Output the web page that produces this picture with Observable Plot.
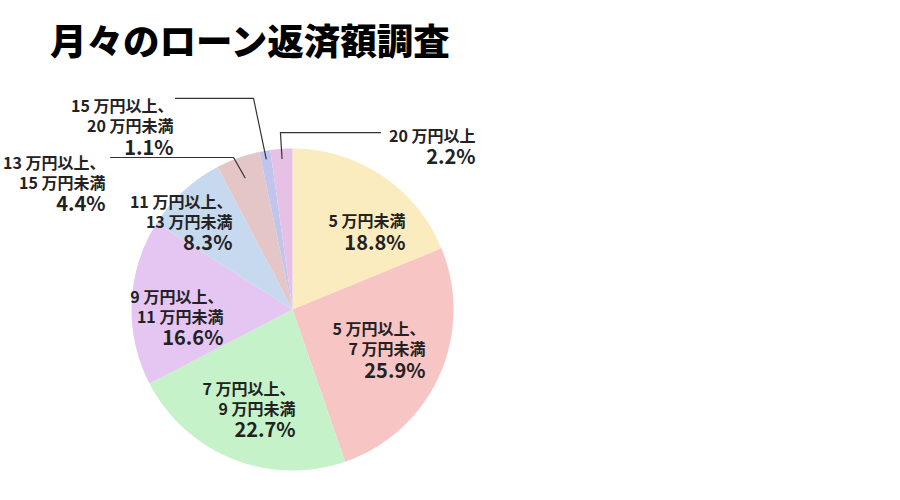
<!DOCTYPE html>
<html><head><meta charset="utf-8">
<script src="https://cdn.jsdelivr.net/npm/d3@7"></script>
<script src="https://cdn.jsdelivr.net/npm/@observablehq/plot@0.6"></script>
<style>
body{margin:0;background:#fff;font-family:"Noto Sans CJK JP","Noto Sans",sans-serif;}
#title{height:80px;line-height:80px;padding-left:50px;font-size:36.5px;font-weight:900;color:#000;white-space:nowrap;}
</style></head><body>
<div id="title">月々のローン返済額調査</div>
<div id="chart"></div>
<script>
// ---- data ----
const categories = ["5 万円未満", "5 万円以上、\n7 万円未満", "7 万円以上、\n9 万円未満", "9 万円以上、\n11 万円未満",
  "11 万円以上、\n13 万円未満", "13 万円以上、\n15 万円未満", "15 万円以上、\n20 万円未満", "20 万円以上"];
const shares = [18.8, 25.9, 22.7, 16.6, 8.3, 4.4, 1.1, 2.2];
const percentLabels = ["18.8%", "25.9%", "22.7%", "16.6%", "8.3%", "4.4%", "1.1%", "2.2%"];
const colors = ["#fbecc0", "#f8c5c5", "#c6f2c9", "#e5c5f2", "#c6d9ef", "#e4c6c6", "#c1c5ee", "#e6c1e5"];

// ---- layout (pie radius units, y up, relative to pie centre) ----
const labelAnchor = [[0.702, 0.497], [0.826, -0.298], [0.019, -0.665], [-0.429, -0.096],
  [-0.373, 0.494], [-1.161, 0.736], [-0.739, 1.087], [1.137, 1.031]];
// leaders: slice index, label-side x, elbow x, level y, radius of tip
const leaders = [
  {i: 5, x0: -1.130, xe: -0.366, y: 0.944, r: 0.87},
  {i: 6, x0: -0.727, xe: -0.242, y: 1.311, r: 0.95},
  {i: 7, x0: 0.547, xe: -0.075, y: 1.099, r: 0.94}
];

const W = 900, H = 420, cx = 292, cy = 229, R = 161;

const arcs = d3.pie().sort(null).value(d => d)(shares);
const slicePts = [];
arcs.forEach((a, i) => {
  const n = Math.max(2, Math.ceil((a.endAngle - a.startAngle) / (Math.PI / 360)));
  slicePts.push({k: categories[i], x: 0, y: 0});
  for (let j = 0; j <= n; j++) {
    const t = a.startAngle + (a.endAngle - a.startAngle) * j / n;
    slicePts.push({k: categories[i], x: Math.sin(t), y: Math.cos(t)});
  }
  slicePts.push({k: categories[i], x: 0, y: 0});
});

const leaderPts = [];
leaders.forEach(l => {
  const a = arcs[l.i], m = (a.startAngle + a.endAngle) / 2;
  leaderPts.push({k: l.i, x: l.x0, y: l.y});
  leaderPts.push({k: l.i, x: l.xe, y: l.y});
  leaderPts.push({k: l.i, x: Math.sin(m) * l.r, y: Math.cos(m) * l.r});
});

const labels = categories.map((c, i) => ({c, p: percentLabels[i], x: labelAnchor[i][0], y: labelAnchor[i][1]}));

const font = '"Noto Sans CJK JP", "Noto Sans", sans-serif';
const chart = Plot.plot({
  width: W, height: H, margin: 0,
  x: {domain: [-cx / R, (W - cx) / R], range: [0, W], axis: null},
  y: {domain: [-(H - cy) / R, cy / R], range: [H, 0], axis: null},
  color: {domain: categories, range: colors},
  style: {fontFamily: font, background: "#fff"},
  marks: [
    Plot.line(slicePts, {x: "x", y: "y", z: "k", fill: "k", stroke: "none", curve: "linear"}),
    Plot.line(leaderPts, {x: "x", y: "y", z: "k", stroke: "#333", strokeWidth: 1.2}),
    Plot.text(labels, {x: "x", y: "y", text: "c", textAnchor: "end", lineAnchor: "bottom", lineHeight: 1.25, dy: -2,
      fontSize: 16, fontWeight: "bold", fill: "#222", fontFamily: font}),
    Plot.text(labels, {x: "x", y: "y", text: "p", textAnchor: "end", lineAnchor: "top", dy: 6,
      fontSize: 20, fontWeight: "bold", fill: "#222", fontFamily: font})
  ]
});
document.getElementById("chart").appendChild(chart);
</script>
</body></html>
